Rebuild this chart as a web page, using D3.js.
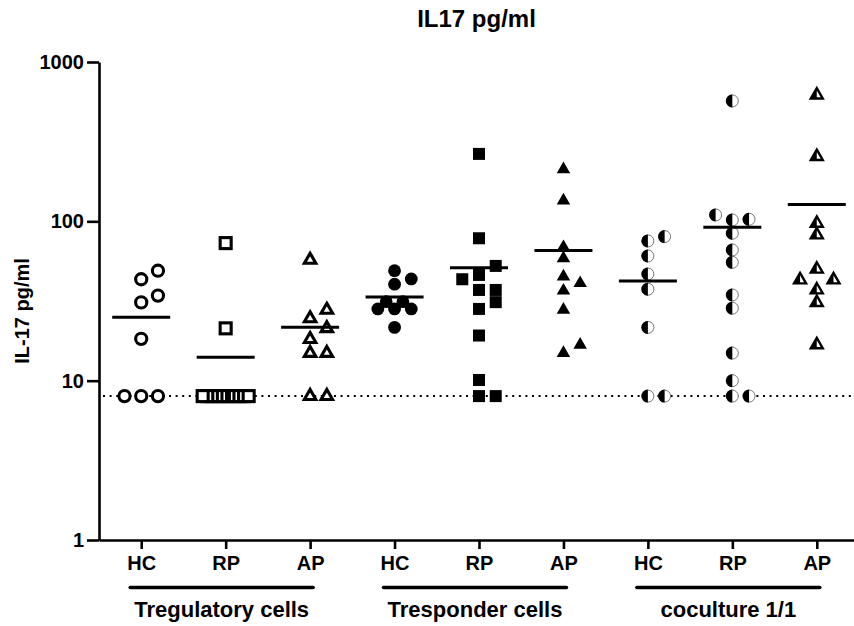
<!DOCTYPE html>
<html>
<head>
<meta charset="utf-8">
<script src="https://cdn.jsdelivr.net/npm/d3@7/dist/d3.min.js"></script>
<style>
  html, body { margin: 0; padding: 0; background: #fff; }
  svg { display: block; }
  text { font-family: "Liberation Sans", Arial, sans-serif; font-weight: bold; fill: #000; }
</style>
</head>
<body>
<svg id="chart" width="854" height="626"></svg>
<script>
// ---------------- data ----------------
const categories = ["HC", "RP", "AP", "HC", "RP", "AP", "HC", "RP", "AP"];
const groupNames = ["Tregulatory cells", "Tresponder cells", "coculture 1/1"];
const yTicks = [1, 10, 100, 1000];
const detectionLimit = 8;

const tregHC  = [49, 43.3, 34.2, 31, 18.3, 8, 8, 8];
const tregRP  = [73, 21.3, 8, 8, 8, 8, 8, 8, 8, 8, 8, 8, 8];
const tregAP  = [57.3, 27.8, 24.6, 21.3, 18.2, 14.9, 14.9, 8, 8];
const trespHC = [49, 43.5, 40.3, 31.3, 31.3, 28.2, 28.2, 28.2, 21.6];
const trespRP = [265, 78.3, 52.5, 46.1, 43.3, 37.1, 37.1, 31.1, 28.2, 19.2, 10.1, 8, 8];
const trespAP = [212, 135, 68.8, 58.6, 45, 40.9, 36.7, 27.8, 16.8, 14.9];
const cocuHC  = [80.2, 75.3, 60.6, 46.7, 37.5, 21.6, 8, 8];
const cocuRP  = [570, 109.7, 103, 102, 84.2, 66.1, 55.3, 34.5, 28.5, 14.9, 10, 8, 8];
const cocuAP  = [621, 255, 97.3, 82.2, 50.1, 42.9, 42.9, 37.1, 30.9, 16.8];

const seriesValues = [tregHC, tregRP, tregAP, trespHC, trespRP, trespAP, cocuHC, cocuRP, cocuAP];
const markerKinds = ["openCircle", "openSquare", "openTriangle",
                     "circle", "square", "triangle",
                     "halfCircle", "halfCircle", "halfTriangle"];

// ---------------- layout ----------------
const W = 854, H = 626;
const mLeft = 99, mRight = 859, mTop = 62, mBottom = 540;
const svg = d3.select("#chart");

const x = d3.scalePoint().domain(d3.range(categories.length)).range([mLeft, mRight]).padding(0.5);
const y = d3.scaleLog().domain([1, 1000]).range([mBottom, mTop]);
const step = x.step() / 5.05;   // beeswarm slot width

// title
svg.append("text").attr("x", (mLeft + W) / 2).attr("y", 27)
  .attr("text-anchor", "middle").style("font-size", "24px").text("IL17 pg/ml");

// y title
svg.append("text").attr("transform", `translate(29,${(mTop + mBottom) / 2 + 10}) rotate(-90)`)
  .attr("text-anchor", "middle").style("font-size", "20px").text("IL-17 pg/ml");

// y axis
const yAxis = svg.append("g").attr("transform", `translate(${mLeft},0)`)
  .call(d3.axisLeft(y).tickValues(yTicks).tickFormat(d3.format("d")).tickSize(12).tickSizeOuter(0).tickPadding(3));
yAxis.select(".domain").attr("stroke", "#000").attr("stroke-width", 2.6);
yAxis.selectAll(".tick line").attr("stroke", "#000").attr("stroke-width", 2.6);
yAxis.selectAll(".tick text").style("font-size", "20px").style("font-family", "Liberation Sans, Arial, sans-serif").style("font-weight", "bold").attr("fill", "#000");

// x axis
const xAxis = svg.append("g").attr("transform", `translate(0,${mBottom})`)
  .call(d3.axisBottom(x).tickFormat(i => categories[i]).tickSize(9).tickSizeOuter(0).tickPadding(7));
xAxis.select(".domain").attr("stroke", "#000").attr("stroke-width", 2.6);
xAxis.selectAll(".tick line").attr("stroke", "#000").attr("stroke-width", 2.6);
xAxis.selectAll(".tick text").style("font-size", "20px").style("font-family", "Liberation Sans, Arial, sans-serif").style("font-weight", "bold").attr("fill", "#000");

// group bars and labels
groupNames.forEach((g, gi) => {
  const x0 = x(gi * 3) - 11, x1 = x(gi * 3 + 2) + 3;
  svg.append("line").attr("x1", x0).attr("x2", x1).attr("y1", 587.5).attr("y2", 587.5)
    .attr("stroke", "#000").attr("stroke-width", 3.6).attr("stroke-linecap", "round");
  svg.append("text").attr("x", (x0 + x1) / 2).attr("y", 617)
    .attr("text-anchor", "middle").style("font-size", "22px").text(g);
});

// dotted detection-limit line
svg.append("line").attr("x1", mLeft + 4).attr("x2", W).attr("y1", y(detectionLimit)).attr("y2", y(detectionLimit))
  .attr("stroke", "#000").attr("stroke-width", 2).attr("stroke-dasharray", "2,4.6");

// ---------------- beeswarm placement ----------------
function swarm(vals, cx) {
  const pts = vals.map(v => ({ v, y: y(v) })).sort((a, b) => a.v - b.v);
  const placed = [];
  const D = 11;
  pts.forEach(p => {
    const n = pts.filter(q => Math.abs(q.y - p.y) < 2).length;
    p.s = n > 5 ? 46 / (n - 1) : step;
    const slots = n > 5
      ? d3.range(0, 13).map(k => (k % 2 ? (k + 1) / 2 : -k / 2))
      : [0, 1, -1, 0.5, -0.5, 1.5, -1.5, 2, -2, 2.5, -2.5, 3, -3];
    for (const k of slots) {
      const px = cx + k * p.s;
      const hit = placed.some(q => Math.abs(q.y - p.y) < D && Math.abs(q.x - px) < 0.4 * Math.min(q.s, p.s));
      if (!hit) { p.x = px; break; }
    }
    if (p.x === undefined) p.x = cx;
    placed.push(p);
  });
  return placed;
}

// ---------------- markers ----------------
function triPath(a) {
  const h = a * Math.sqrt(3) / 2;
  return `M0,${-2 * h / 3}L${a / 2},${h / 3}L${-a / 2},${h / 3}Z`;
}
function triLeftHalf(a) {
  const h = a * Math.sqrt(3) / 2;
  return `M0,${-2 * h / 3}L0,${h / 3}L${-a / 2},${h / 3}Z`;
}

const marks = svg.append("g");
seriesValues.forEach((vals, i) => {
  const cx = x(i);
  const pts = swarm(vals, cx);
  const kind = markerKinds[i];
  pts.forEach(p => {
    const g = marks.append("g").attr("transform", `translate(${p.x},${p.y})`);
    if (kind === "openCircle") {
      g.append("circle").attr("r", 5.6).attr("fill", "#fff").attr("stroke", "#000").attr("stroke-width", 3.1);
    } else if (kind === "circle") {
      g.append("circle").attr("r", 6.4).attr("fill", "#000");
    } else if (kind === "openSquare") {
      g.append("rect").attr("x", -5.5).attr("y", -5.5).attr("width", 11).attr("height", 11)
        .attr("fill", "#fff").attr("stroke", "#000").attr("stroke-width", 3.1);
    } else if (kind === "square") {
      g.append("rect").attr("x", -6).attr("y", -6).attr("width", 12).attr("height", 12).attr("fill", "#000");
    } else if (kind === "openTriangle") {
      g.append("path").attr("d", triPath(11.5)).attr("fill", "#fff").attr("stroke", "#000")
        .attr("stroke-width", 3.1).attr("stroke-linejoin", "miter");
    } else if (kind === "triangle") {
      g.append("path").attr("d", triPath(13.5)).attr("fill", "#000");
    } else if (kind === "halfCircle") {
      g.append("circle").attr("r", 6).attr("fill", "#fff").attr("stroke", "#777").attr("stroke-width", 1);
      g.append("path").attr("d", d3.arc()({ innerRadius: 0, outerRadius: 6.5, startAngle: Math.PI, endAngle: 2 * Math.PI })).attr("fill", "#000");
    } else if (kind === "halfTriangle") {
      g.append("path").attr("d", triPath(12)).attr("fill", "#fff").attr("stroke", "#000").attr("stroke-width", 2.4);
      g.append("path").attr("d", triLeftHalf(12)).attr("fill", "#000");
    }
  });
});

// mean lines
const means = seriesValues.map(v => d3.mean(v));
svg.append("g").selectAll("line").data(means).join("line")
  .attr("x1", (d, i) => x(i) - 29).attr("x2", (d, i) => x(i) + 29)
  .attr("y1", d => y(d)).attr("y2", d => y(d))
  .attr("stroke", "#000").attr("stroke-width", 3);
</script>
</body>
</html>
